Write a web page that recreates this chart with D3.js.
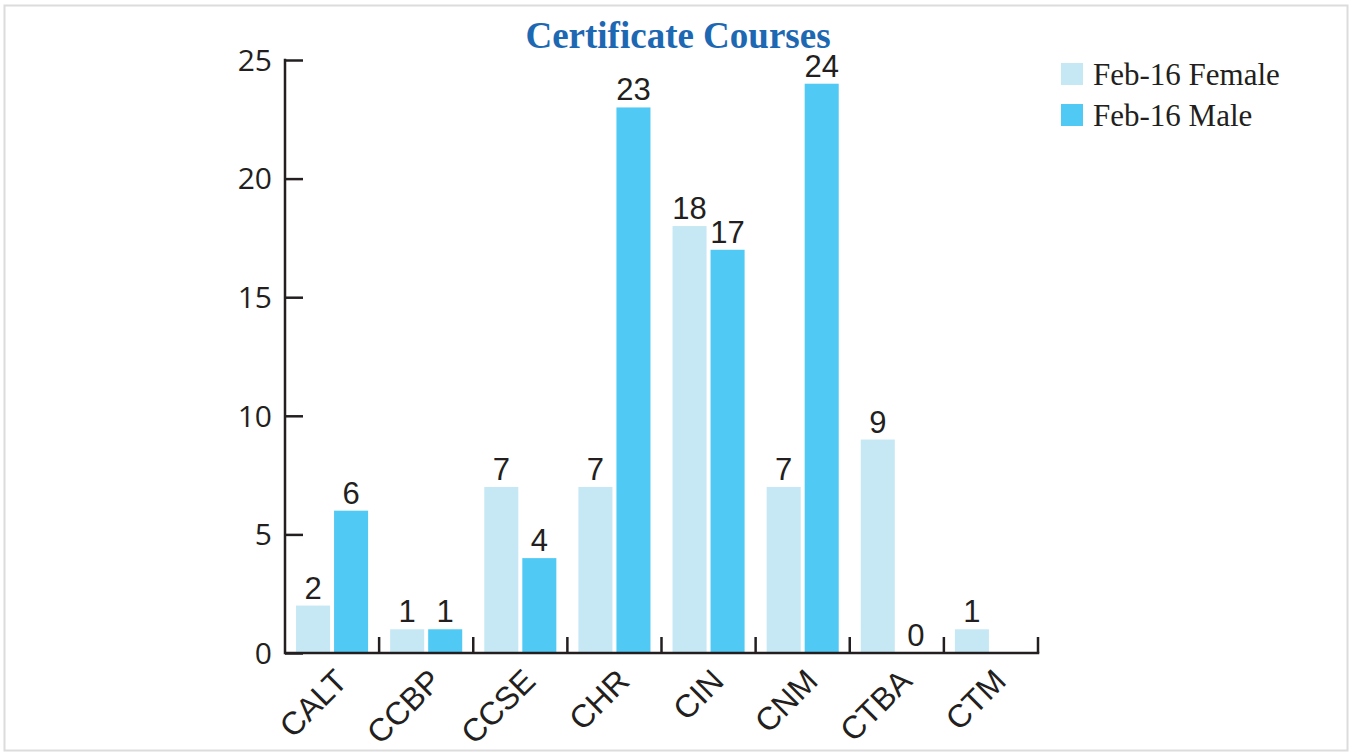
<!DOCTYPE html>
<html>
<head>
<meta charset="utf-8">
<script src="https://cdn.jsdelivr.net/npm/d3@7"></script>
<style>
  body { margin: 0; background: #fff; }
  svg { display: block; }
</style>
</head>
<body>
<div id="chart"></div>
<script>
const categories = ["CALT", "CCBP", "CCSE", "CHR", "CIN", "CNM", "CTBA", "CTM"];
const femaleValues = [2, 1, 7, 7, 18, 7, 9, 1];
const maleValues = [6, 1, 4, 23, 17, 24, 0, null];
const seriesNames = ["Feb-16 Female", "Feb-16 Male"];
const yTicks = [0, 5, 10, 15, 20, 25];

const width = 1351;
const height = 753;
const margin = { top: 60, right: 313, bottom: 100, left: 285 };

const colors = ["#c6e8f4", "#50caf4"];
const axisColor = "#231f20";

const svg = d3
  .select("#chart")
  .append("svg")
  .attr("width", width)
  .attr("height", height);

// light frame round the whole picture
svg
  .append("rect")
  .attr("x", 4.5)
  .attr("y", 5.5)
  .attr("width", 1343)
  .attr("height", 745)
  .attr("fill", "none")
  .attr("stroke", "#dcdcdc")
  .attr("stroke-width", 2);

const x = d3
  .scaleBand()
  .domain(categories)
  .range([margin.left, width - margin.right])
  .paddingInner(0)
  .paddingOuter(0);

const xInner = d3
  .scaleBand()
  .domain([0, 1])
  .range([0, x.bandwidth()])
  .paddingInner(0.105)
  .paddingOuter(0.29);

const y = d3
  .scaleLinear()
  .domain([0, 25])
  .range([height - margin.bottom, margin.top]);

const data = categories.map((c, i) => ({
  category: c,
  values: [femaleValues[i], maleValues[i]],
}));

// bars
const groups = svg
  .selectAll(".group")
  .data(data)
  .join("g")
  .attr("class", "group")
  .attr("transform", (d) => `translate(${x(d.category)},0)`);

groups
  .selectAll("rect")
  .data((d) => d.values.map((v, i) => ({ v, i })).filter((d) => d.v !== null))
  .join("rect")
  .attr("x", (d) => xInner(d.i))
  .attr("y", (d) => y(d.v))
  .attr("width", xInner.bandwidth())
  .attr("height", (d) => y(0) - y(d.v))
  .attr("fill", (d) => colors[d.i]);

groups
  .selectAll("text")
  .data((d) => d.values.map((v, i) => ({ v, i })).filter((d) => d.v !== null))
  .join("text")
  .attr("x", (d) => xInner(d.i) + xInner.bandwidth() / 2)
  .attr("y", (d) => y(d.v) - 7)
  .attr("text-anchor", "middle")
  .style("font-family", "'Liberation Sans', Arial, sans-serif")
  .style("font-size", "31px")
  .attr("fill", axisColor)
  .text((d) => d.v);

// y axis
const yAxis = svg
  .append("g")
  .attr("transform", `translate(${margin.left},0)`)
  .call(d3.axisRight(y).tickValues(yTicks).tickSize(18).tickFormat(""));
yAxis.select(".domain").remove();
yAxis.selectAll("line").attr("stroke", axisColor).attr("stroke-width", 2.5);

svg
  .append("line")
  .attr("x1", margin.left)
  .attr("x2", margin.left)
  .attr("y1", y(25) - 1.25)
  .attr("y2", y(0) + 1.25)
  .attr("stroke", axisColor)
  .attr("stroke-width", 2.5);

svg
  .append("g")
  .selectAll("text")
  .data(yTicks)
  .join("text")
  .attr("x", margin.left - 13)
  .attr("y", (d) => y(d))
  .attr("dy", "0.36em")
  .attr("text-anchor", "end")
  .style("font-family", "'Open Sans', sans-serif")
  .style("font-size", "30px")
  .attr("fill", axisColor)
  .text((d) => d);

// x axis
svg
  .append("line")
  .attr("x1", margin.left)
  .attr("x2", width - margin.right + 1.25)
  .attr("y1", y(0))
  .attr("y2", y(0))
  .attr("stroke", axisColor)
  .attr("stroke-width", 2.5);

svg
  .append("g")
  .selectAll("line")
  .data(categories)
  .join("line")
  .attr("x1", (d) => x(d) + x.bandwidth())
  .attr("x2", (d) => x(d) + x.bandwidth())
  .attr("y1", y(0))
  .attr("y2", y(0) - 16)
  .attr("stroke", axisColor)
  .attr("stroke-width", 2.5);

svg
  .append("g")
  .selectAll("text")
  .data(categories)
  .join("text")
  .attr(
    "transform",
    (d) => `translate(${x(d) + x.bandwidth() / 2 + 17},${y(0) + 30}) rotate(-45)`
  )
  .attr("text-anchor", "end")
  .style("font-family", "'Liberation Sans', Arial, sans-serif")
  .style("font-size", "32px")
  .attr("fill", axisColor)
  .text((d) => d);

// title
svg
  .append("text")
  .attr("x", 678)
  .attr("y", 48)
  .attr("text-anchor", "middle")
  .style("font-family", "'Liberation Serif', 'Times New Roman', serif")
  .style("font-weight", "bold")
  .style("font-size", "37px")
  .attr("fill", "#1d68b3")
  .text("Certificate Courses");

// legend
const legend = svg
  .append("g")
  .attr("transform", "translate(1061,63)")
  .selectAll("g")
  .data(seriesNames)
  .join("g")
  .attr("transform", (d, i) => `translate(0,${i * 41})`);

legend
  .append("rect")
  .attr("width", 22)
  .attr("height", 22)
  .attr("fill", (d, i) => colors[i]);

legend
  .append("text")
  .attr("x", 32)
  .attr("y", 22)
  .style("font-family", "'Liberation Serif', 'Times New Roman', serif")
  .style("font-size", "31px")
  .attr("fill", axisColor)
  .text((d) => d);
</script>
</body>
</html>
